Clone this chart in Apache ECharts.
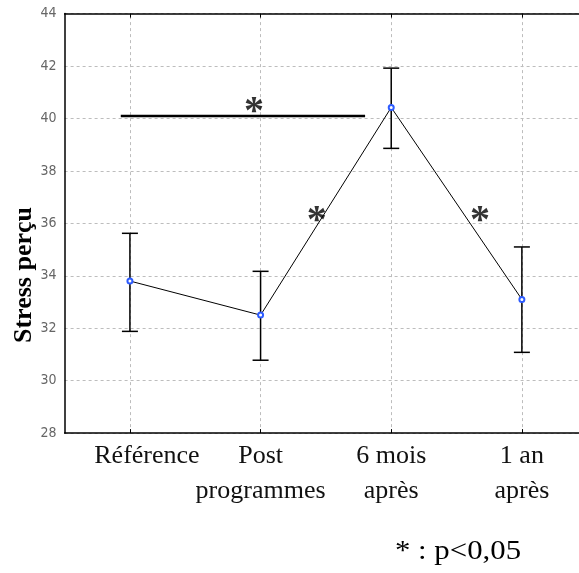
<!DOCTYPE html>
<html><head><meta charset="utf-8">
<script src="https://cdn.jsdelivr.net/npm/echarts@6/dist/echarts.min.js"></script>
<style>html,body{margin:0;padding:0;background:#fff}#c{width:579px;height:573px}</style>
</head><body><div id="c"></div>
<script>
// ---- data ----
const categories = ['Référence', 'Post\nprogrammes', '6 mois\naprès', '1 an\naprès'];
const means = [33.8, 32.5, 40.42, 33.1];
const upper = [35.62, 34.17, 41.92, 35.1];
const lower = [31.88, 30.78, 38.86, 31.08];
const yMin = 28, yMax = 44, yInterval = 2;
const sigBar = [[-0.07, 40.09], [1.80, 40.09]];
const stars = [[0.95, 40.51], [1.43, 36.36], [2.68, 36.36]];
const yTitle = 'Stress perçu';
const footnote = '* : p<0,05';

const SERIF = '"Liberation Serif", "Times New Roman", serif';
const chart = echarts.init(document.getElementById('c'), null, {renderer: 'canvas'});
const gridCol = '#bdbdbd';

chart.setOption({
  animation: false,
  backgroundColor: '#fff',
  grid: {left: 64.6, top: 13.6, right: -8.2, height: 419.5, containLabel: false, outerBoundsMode: 'none'},
  xAxis: [
    {
      type: 'category', data: categories, position: 'bottom', boundaryGap: true,
      axisLine: {show: true, onZero: false, lineStyle: {color: '#000', width: 1.5}},
      axisTick: {show: true, inside: true, alignWithLabel: true, length: 4, lineStyle: {color: '#000'}},
      splitLine: {show: false},
      axisLabel: {
        interval: 0, margin: 6, color: '#111', fontFamily: SERIF, fontSize: 26, lineHeight: 35,
        formatter: (v, i) => i === 0 ? '{r|' + v + '}' : v,
        rich: {r: {padding: [0, 0, 0, 34], fontFamily: SERIF, fontSize: 26, lineHeight: 35, color: '#111'}}
      }
    },
    {
      type: 'category', data: categories, position: 'top', boundaryGap: true,
      axisLine: {show: true, onZero: false, lineStyle: {color: '#000', width: 1.5}},
      axisTick: {show: true, inside: true, alignWithLabel: true, length: 4, lineStyle: {color: '#000'}},
      axisLabel: {show: false}, splitLine: {show: false}
    },
    {type: 'value', min: -0.5, max: 3.5, show: false}
  ],
  yAxis: {
    type: 'value', min: yMin, max: yMax, interval: yInterval,
    axisLine: {show: true, onZero: false, lineStyle: {color: '#000', width: 1.5}},
    axisTick: {show: false},
    axisLabel: {color: '#666', fontSize: 14, margin: 8,
      fontFamily: '"Liberation Sans Narrow", "DejaVu Sans Condensed", sans-serif'},
    splitLine: {show: true, lineStyle: {color: gridCol, type: [3, 3], width: 1}}
  },
  graphic: [
    {type: 'text', x: 24, y: 275, rotation: Math.PI / 2,
      style: {text: yTitle, font: 'bold 26px ' + SERIF, fill: '#000', align: 'center', verticalAlign: 'middle'}},
    {type: 'text', x: 395, y: 552, scaleX: 1.1,
      style: {text: footnote, font: '28px ' + SERIF, fill: '#000', align: 'left', verticalAlign: 'middle'}}
  ],
  series: [
    {
      type: 'line', xAxisIndex: 0, data: categories.map(() => null), symbol: 'none', z: 0, silent: true,
      markLine: {
        z: 0, silent: true, symbol: 'none', label: {show: false},
        lineStyle: {color: gridCol, type: [3, 3], width: 1},
        data: categories.map((c, i) => ({xAxis: i}))
      }
    },
    {
      type: 'custom', xAxisIndex: 0, z: 6,
      data: categories.map((c, i) => [i, lower[i], upper[i]]),
      renderItem: (params, api) => {
        const lo = api.coord([api.value(0), api.value(1)]);
        const hi = api.coord([api.value(0), api.value(2)]);
        const hw = 8;
        const st = {stroke: '#000', lineWidth: 1.5};
        return {type: 'group', children: [
          {type: 'line', shape: {x1: lo[0], y1: lo[1], x2: hi[0], y2: hi[1]}, style: st},
          {type: 'line', shape: {x1: hi[0] - hw, y1: hi[1], x2: hi[0] + hw, y2: hi[1]}, style: st},
          {type: 'line', shape: {x1: lo[0] - hw, y1: lo[1], x2: lo[0] + hw, y2: lo[1]}, style: st}
        ]};
      }
    },
    {
      type: 'line', xAxisIndex: 0, data: means, z: 7,
      symbol: 'emptyCircle', symbolSize: 5,
      itemStyle: {color: '#2e5cff', borderColor: '#2e5cff', borderWidth: 1},
      lineStyle: {color: '#000', width: 1}
    },
    {
      type: 'line', xAxisIndex: 2, data: sigBar, symbol: 'none', z: 7,
      lineStyle: {color: '#000', width: 2.5}
    },
    {
      type: 'scatter', xAxisIndex: 2, data: stars, symbolSize: 1, z: 8,
      itemStyle: {color: 'rgba(0,0,0,0)'},
      label: {show: true, position: 'inside', formatter: '*', color: '#000',
        fontFamily: SERIF, fontWeight: 'bold', fontSize: 40, offset: [0, 8]}
    }
  ]
});
</script>
</body></html>
